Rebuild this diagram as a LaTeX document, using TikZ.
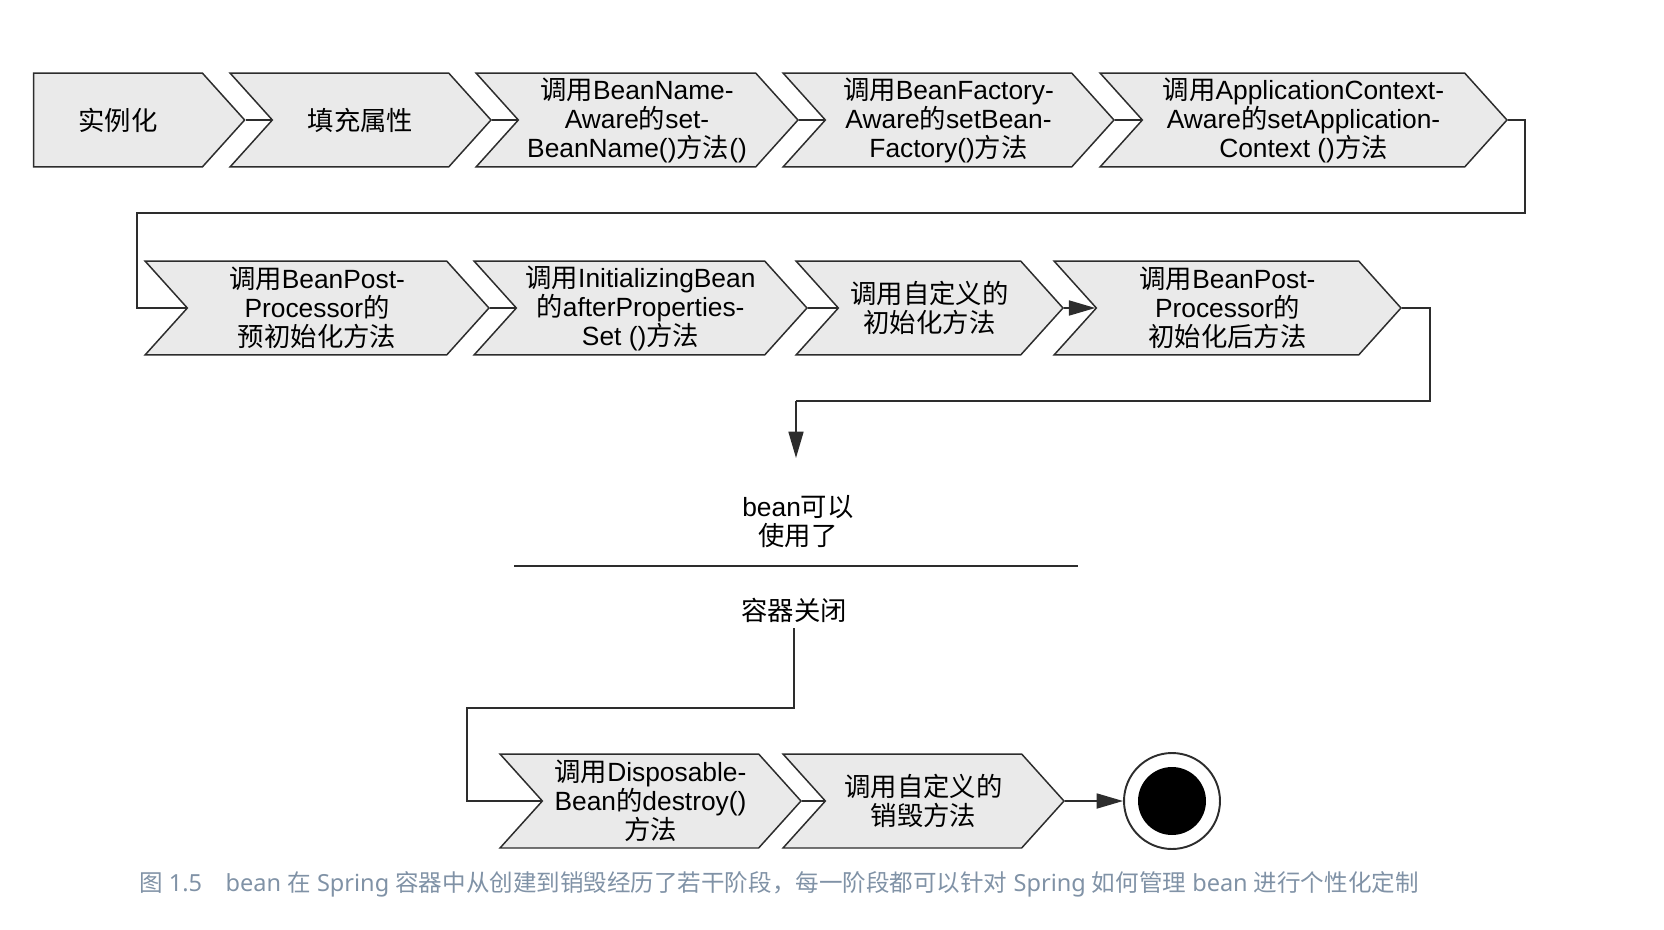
\documentclass[tikz,border=0pt]{standalone}
\usepackage{fontspec}
\setmainfont{Liberation Sans}
\newfontfamily\zhfont{Noto Sans CJK SC}
\newfontfamily\capfont{Noto Sans}
\newcommand{\zh}[1]{{\zhfont #1}}
\usetikzlibrary{arrows.meta, shapes.symbols}
\definecolor{stagefill}{RGB}{234,234,234}
\definecolor{edgegray}{RGB}{45,45,45}
\definecolor{captiongray}{RGB}{128,146,166}

\begin{document}
\begin{tikzpicture}[x=0.02cm, y=-0.02cm,
        every node/.style={font=\fontsize{15pt}{16.5pt}\selectfont},
        stage/.style={signal, signal to=east, signal from=west, signal pointer angle=96,
                      draw=edgegray, line width=0.85pt, fill=stagefill,
                      minimum width=#1, minimum height=1.88cm,
                      inner xsep=0pt, inner ysep=1pt, align=center},
        link/.style={draw=edgegray, line width=1.1pt},
        arr/.style={link, -{Triangle[length=15pt,width=8.5pt]}}
    ]
        \useasboundingbox (0,0) rectangle (1664,930);
        % first row
        \node[stage=4.22cm, signal from=nowhere] (inst) at (118,120) {\zh{实例化}};
        \node[stage=5.22cm] (fill)   at (360.5,120)  {\zh{填充属性}};
        \node[stage=6.44cm] (bname)  at (637,120)    {\zh{调用}BeanName-\\Aware\zh{的}set-\\BeanName()\zh{方法}()};
        \node[stage=6.62cm] (bfact)  at (948.5,120)  {\zh{调用}BeanFactory-\\Aware\zh{的}setBean-\\Factory()\zh{方法}};
        \node[stage=8.14cm] (appctx) at (1303.5,120) {\zh{调用}ApplicationContext-\\Aware\zh{的}setApplication-\\Context ()\zh{方法}};
        % second row
        \node[stage=6.88cm] (prebpp) at (317,308)    {\zh{调用}BeanPost-\\Processor\zh{的}\\\zh{预初始化方法}};
        \node[stage=6.66cm] (afterp) at (640.5,308)  {\zh{调用}InitializingBean\\\zh{的}afterProperties-\\Set ()\zh{方法}};
        \node[stage=5.34cm] (cinit)  at (929.5,308)  {\zh{调用自定义的}\\\zh{初始化方法}};
        \node[stage=6.94cm] (postbpp) at (1227.5,308) {\zh{调用}BeanPost-\\Processor\zh{的}\\\zh{初始化后方法}};
        % ready / shutdown
        \node[align=center] (ready) at (798,522) {bean\zh{可以}\\\zh{使用了}};
        \node (close) at (794,610) {\zh{容器关闭}};
        % third row
        \node[stage=6.02cm] (dispo)  at (650.5,801)  {\zh{调用}Disposable-\\Bean\zh{的}destroy()\\\zh{方法}};
        \node[stage=5.62cm] (cdest)  at (923.5,801)  {\zh{调用自定义的}\\\zh{销毁方法}};
        \node[circle, draw=edgegray, line width=1.1pt, minimum size=1.92cm] (done) at (1172,801) {};
        \node[circle, fill=black, minimum size=1.36cm] (dot) at (done) {};

        \coordinate (r1) at (1525,213);
        \coordinate (l1) at (137,213);
        \coordinate (r2) at (1430,401);
        \coordinate (l2) at (796,401);
        \coordinate (down) at (796,458);
        \coordinate (sepl) at (514,566);
        \coordinate (sepr) at (1078,566);
        \coordinate (l3) at (467,708);

        \draw[link] (inst.east) -- (fill.west);
        \draw[link] (fill.east) -- (bname.west);
        \draw[link] (bname.east) -- (bfact.west);
        \draw[link] (bfact.east) -- (appctx.west);
        \draw[link] (appctx.east) -| (r1) -- (l1) |- (prebpp.west);
        \draw[link] (prebpp.east) -- (afterp.west);
        \draw[link] (afterp.east) -- (cinit.west);
        \draw[arr] (cinit.east) -- (postbpp.west);
        \draw[link] (postbpp.east) -| (r2) -- (l2);
        \draw[arr] (l2) -- (down);
        \draw[link] (sepl) -- (sepr);
        \draw[link] (close.south) |- (l3) |- (dispo.west);
        \draw[link] (dispo.east) -- (cdest.west);
        \draw[arr] (cdest.east) -- (done.west);

        \node[font=\capfont\fontsize{13.4pt}{15pt}\selectfont, text=captiongray] (caption) at (779,884)
            {\zh{图} 1.5\zh{　}bean \zh{在} Spring \zh{容器中从创建到销毁经历了若干阶段，每一阶段都可以针对} Spring \zh{如何管理} bean \zh{进行个性化定制}};
\end{tikzpicture}
\end{document}
